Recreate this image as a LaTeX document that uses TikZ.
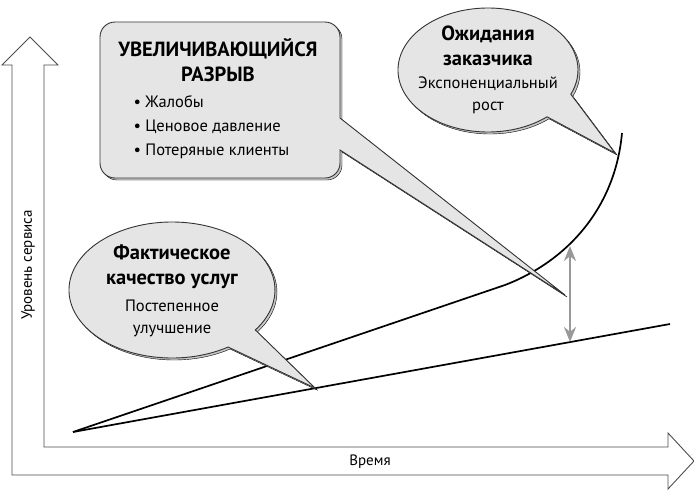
\documentclass[tikz,border=0pt]{standalone}
\usepackage{fontspec}
\setmainfont{PT Sans}
\usetikzlibrary{arrows.meta, positioning, calc}

\begin{document}
\begin{tikzpicture}[
    x=1pt, y=-1pt,
    bubble/.style={draw=black!80, fill=black!10, line width=0.9pt},
    shade/.style={fill=black!22},
    title/.style={font=\fontsize{20.5}{25}\selectfont\bfseries, align=center},
    note/.style={font=\fontsize{16.5}{22}\selectfont, align=center},
    curve/.style={line width=1.7pt},
    gap/.style={{Stealth[length=15pt,width=12pt]}-{Stealth[length=15pt,width=12pt]}, black!40, line width=2.8pt},
    axis/.style={draw=black!70, fill=white, line width=0.9pt}
]
\useasboundingbox (0,0) rectangle (694,490);

% Axes
\draw[axis] (12,475) -- (12,65) -- (2,65) -- (30,37) -- (58,65) -- (44,65) -- (44,447)
    -- (668,447) -- (668,433) -- (694,461) -- (668,489) -- (668,475) -- cycle;
\node[font=\fontsize{15}{18}\selectfont, rotate=90] (ylab) at (28,265) {Уровень сервиса};
\node[font=\fontsize{15}{18}\selectfont] (xlab) at (370,462) {Время};

% Curves
\coordinate (origin) at (73,432);
\coordinate (actual) at (670,324);
\coordinate (bend) at (505,285);
\coordinate (expect) at (622,133);
\draw[curve] (origin) -- (actual);
\draw[curve] (origin) -- (bend) .. controls (565,262) and (615,210) .. (expect);
\coordinate (gaptop) at (570,246);
\coordinate (gapbot) at (570,342);
\draw[gap] (gaptop) -- (gapbot);

% Callout: gap
\coordinate (gaptip) at (565,295);
\draw[shade, rounded corners=15] (342,120) -- (342,24) -- (102,24) -- (102,180) -- (342,180)
    [sharp corners] -- (342,152) -- (567,297) -- cycle;
\draw[bubble, rounded corners=15] (340,118) -- (340,22) -- (100,22) -- (100,178) -- (340,178)
    [sharp corners] -- (340,150) -- (gaptip) -- cycle;
\node[title] (gaptitle) at (218,60) {УВЕЛИЧИВАЮЩИЙСЯ\\РАЗРЫВ};
\node[note, align=left, anchor=north west, font=\fontsize{16.5}{24}\selectfont] (gaplist) at (130,92)
    {\textbullet\ Жалобы\\\textbullet\ Ценовое давление\\\textbullet\ Потеряные клиенты};

% Callout: expectations
\coordinate (exptip) at (615,153);
\draw[shade] (490,72) ++(49:90 and 62) arc[start angle=49, end angle=383, x radius=90, y radius=62]
    -- (617,155) -- cycle;
\draw[bubble] (488,70) ++(49:90 and 62) arc[start angle=49, end angle=383, x radius=90, y radius=62]
    -- (exptip) -- cycle;
\node[title] (exptitle) at (488,46) {Ожидания\\заказчика};
\node[note] (exptext) at (488,95) {Экспоненциальный\\рост};

% Callout: actual quality
\coordinate (acttip) at (315,388);
\draw[shade] (174,292) ++(57:103 and 68) arc[start angle=57, end angle=396, x radius=103, y radius=68]
    -- (317,390) -- cycle;
\draw[bubble] (172,290) ++(57:103 and 68) arc[start angle=57, end angle=396, x radius=103, y radius=68]
    -- (acttip) -- cycle;
\node[title] (acttitle) at (172,267) {Фактическое\\качество услуг};
\node[note] (acttext) at (172,318) {Постепенное\\улучшение};
\end{tikzpicture}
\end{document}
